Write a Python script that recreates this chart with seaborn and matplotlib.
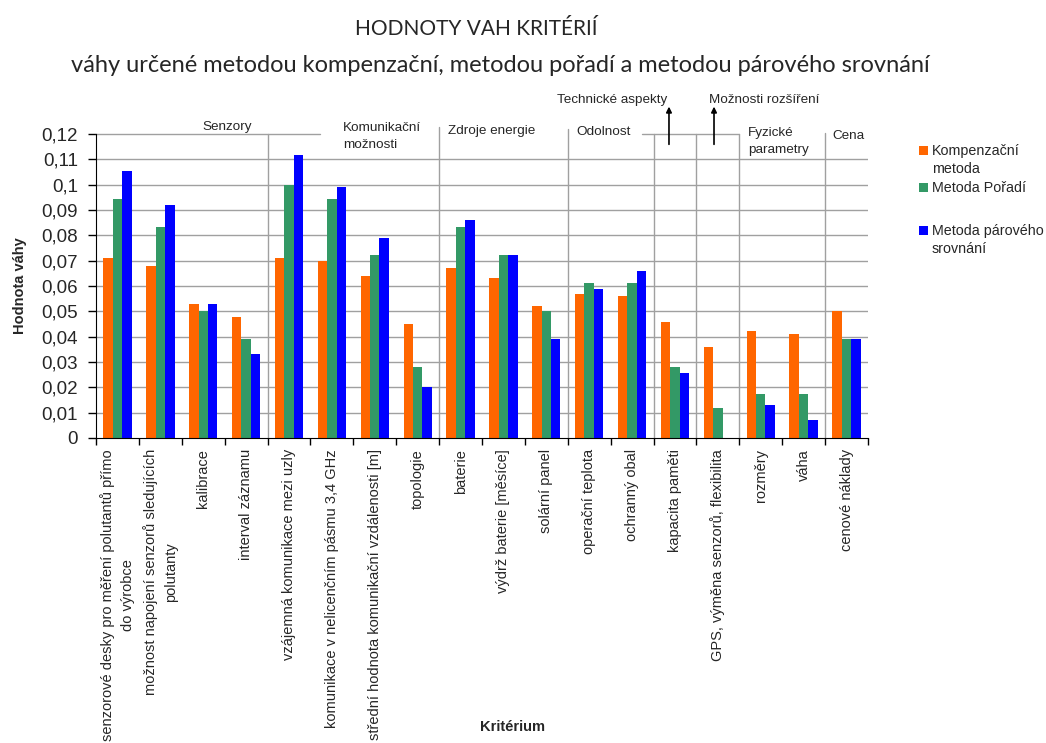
import numpy as np
import pandas as pd
import matplotlib
matplotlib.use("Agg")
import matplotlib.pyplot as plt
import seaborn as sns
from matplotlib.patches import Rectangle

criteria = [
    "senzorové desky pro měření polutantů přímo\ndo výrobce",
    "možnost napojení senzorů sledujících\npolutanty",
    "kalibrace",
    "interval záznamu",
    "vzájemná komunikace mezi uzly",
    "komunikace v nelicenčním pásmu 3,4 GHz",
    "střední hodnota komunikační vzdálenosti [m]",
    "topologie",
    "baterie",
    "výdrž baterie [měsíce]",
    "solární panel",
    "operační teplota",
    "ochranný obal",
    "kapacita paměti",
    "GPS, výměna senzorů, flexibilita",
    "rozměry",
    "váha",
    "cenové náklady",
]
kompenzacni = [0.0711, 0.0677, 0.0530, 0.0478, 0.0711, 0.0697, 0.0641, 0.0448, 0.0670,
               0.0630, 0.0521, 0.0568, 0.0559, 0.0459, 0.0359, 0.0421, 0.0411, 0.0501]
poradi = [0.0943, 0.0833, 0.0501, 0.0392, 0.0997, 0.0943, 0.0722, 0.0281, 0.0831,
          0.0722, 0.0501, 0.0612, 0.0612, 0.0281, 0.0118, 0.0172, 0.0172, 0.0392]
parove = [0.1052, 0.0918, 0.0530, 0.0330, 0.1118, 0.0989, 0.0788, 0.0201, 0.0860,
          0.0722, 0.0392, 0.0588, 0.0659, 0.0258, 0.0, 0.0129, 0.0071, 0.0392]
methods = ["Kompenzační metoda", "Metoda Pořadí", "Metoda párového srovnání"]
legend_labels = ["Kompenzační\nmetoda", "Metoda Pořadí", "Metoda párového\nsrovnání"]
colors = ["#FF6600", "#339966", "#0000FF"]

rows = []
for i, c in enumerate(criteria):
    for m, vals in zip(methods, [kompenzacni, poradi, parove]):
        rows.append({"Kritérium": c, "Metoda": m, "Hodnota": vals[i]})
df = pd.DataFrame(rows)

sns.set_style("white")
plt.rcParams["font.family"] = ["Liberation Sans", "DejaVu Sans"]

fig = plt.figure(figsize=(10.46, 7.43), dpi=100)
ax = fig.add_axes([0.0918, 0.4105, 0.7380, 0.4092])

sns.barplot(data=df, x="Kritérium", y="Hodnota", hue="Metoda", palette=colors,
            width=0.66, gap=0, saturation=1, legend=False, ax=ax, linewidth=0)

n = len(criteria)
ax.set_xlim(-0.5, n - 0.5)
ax.set_ylim(0, 0.12)

yt = np.round(np.arange(0, 0.121, 0.01), 2)
ax.set_yticks(yt)
ax.set_yticklabels([("%g" % v).replace(".", ",") for v in yt], fontsize=13.5)
for v in yt[1:-1]:
    ax.axhline(v, color="#a0a0a0", lw=1, zorder=0)
ax.tick_params(axis="y", direction="out", length=6, width=1, color="black", pad=7, left=True)

ax.set_xticks(range(n))
ax.set_xticklabels(criteria, rotation=90, fontsize=10.5, va="top", ha="center",
                   multialignment="center", linespacing=1.55)
ax.set_xticks(np.arange(-0.5, n, 1), minor=True)
ax.tick_params(axis="x", which="major", length=0, pad=8)
ax.tick_params(axis="x", which="minor", direction="out", length=5, width=1, color="black",
               bottom=True)

for s in ["top", "right"]:
    ax.spines[s].set_visible(False)
ax.spines["left"].set_color("black")
ax.spines["bottom"].set_color("black")

# group separators and partial top frame
seps = [(3.5, 0.1200), (7.5, 0.1229), (10.5, 0.1221), (12.5, 0.12), (13.5, 0.12),
        (14.5, 0.12), (16.5, 0.1205)]
for x, top in seps:
    ax.plot([x, x], [0, top], color="#a0a0a0", lw=1, clip_on=False, zorder=0.5)
ax.plot([-0.5, 4.72], [0.12, 0.12], color="#a0a0a0", lw=1, clip_on=False)
ax.plot([12.23, 14.5], [0.12, 0.12], color="#a0a0a0", lw=1, clip_on=False)

gfs = 9.7
ax.text(2.57, 0.1217, "Senzory", fontsize=gfs, ha="center", va="baseline")
ax.text(5.26, 0.1210, "Komunikační", fontsize=gfs, ha="left", va="baseline")
ax.text(5.26, 0.1146, "možnosti", fontsize=gfs, ha="left", va="baseline")
ax.text(7.71, 0.1201, "Zdroje energie", fontsize=gfs, ha="left", va="baseline")
ax.text(10.69, 0.1197, "Odolnost", fontsize=gfs, ha="left", va="baseline")
ax.text(14.70, 0.1190, "Fyzické", fontsize=gfs, ha="left", va="baseline")
ax.text(14.70, 0.1123, "parametry", fontsize=gfs, ha="left", va="baseline")
ax.text(16.66, 0.1182, "Cena", fontsize=gfs, ha="left", va="baseline")
ax.text(12.81, 0.1324, "Technické aspekty", fontsize=gfs, ha="right", va="baseline")
ax.text(13.79, 0.1324, "Možnosti rozšíření", fontsize=gfs, ha="left", va="baseline")
for x in [12.86, 13.91]:
    ax.annotate("", xy=(x, 0.1308), xytext=(x, 0.1159), annotation_clip=False,
                arrowprops=dict(arrowstyle="-|>", color="black", lw=1.2,
                                mutation_scale=8, shrinkA=0, shrinkB=0))

ax.set_ylabel("Hodnota váhy", fontsize=10.5, fontweight="bold", labelpad=10)
ax.set_xlabel("")
fig.text(0.490, 0.0215, "Kritérium", fontsize=10.5, fontweight="bold", ha="center",
         va="center")

fig.text(0.455, 1 - 35 / 743, "HODNOTY VAH KRITÉRIÍ", fontsize=15, ha="center",
         va="baseline", family=["Lato", "DejaVu Sans"])
fig.text(0.478, 1 - 72 / 743,
         "váhy určené metodou kompenzační, metodou pořadí a metodou párového srovnání",
         fontsize=17, ha="center", va="baseline", family=["Lato", "DejaVu Sans"])

# legend drawn by hand (Excel style: swatch aligned with the first text line)
W, H = 1046, 743
sq_centers = [150, 187, 230]
for lab, col, yc in zip(legend_labels, colors, sq_centers):
    fig.patches.append(Rectangle((919 / W, 1 - (yc + 5) / H), 9 / W, 9 / H,
                                 transform=fig.transFigure, facecolor=col,
                                 edgecolor="none"))
    for j, line in enumerate(lab.split("\n")):
        fig.text(932 / W, 1 - (yc + 5 + j * 18) / H, line, fontsize=10.3, ha="left",
                 va="baseline")

fig.savefig("out.png", dpi=100)
